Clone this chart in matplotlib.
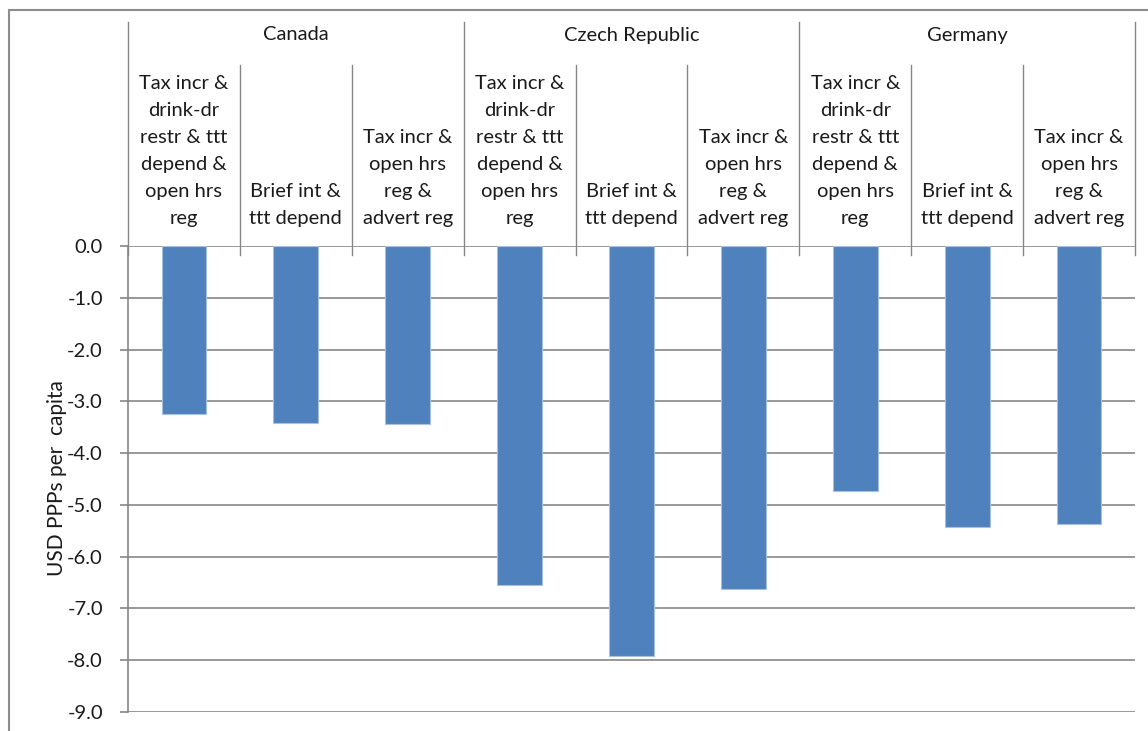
import matplotlib
matplotlib.use("Agg")
import matplotlib.pyplot as plt
from matplotlib.patches import Rectangle

countries = ["Canada", "Czech Republic", "Germany"]
policies = [
    "Tax incr &\ndrink-dr\nrestr & ttt\ndepend &\nopen hrs\nreg",
    "Brief int &\nttt depend",
    "Tax incr &\nopen hrs\nreg &\nadvert reg",
]
canada = [-3.24, -3.41, -3.44]
czech = [-6.54, -7.91, -6.62]
germany = [-4.74, -5.42, -5.36]
yticks = [0.0, -1.0, -2.0, -3.0, -4.0, -5.0, -6.0, -7.0, -8.0, -9.0]
ylabel = "USD PPPs per  capita"

values = canada + czech + germany
n = len(values)
xs = list(range(n))

plt.rcParams["font.family"] = ["Lato", "DejaVu Sans"]
W, H = 1148, 731
fig = plt.figure(figsize=(W / 100, H / 100), dpi=100)
fig.patch.set_facecolor("white")

left_px, right_px, top_px, bot_px = 128, 1135, 246, 712
ax = fig.add_axes([left_px / W, 1 - bot_px / H,
                   (right_px - left_px) / W, (bot_px - top_px) / H])
ax.set_xlim(-0.5, n - 0.5)
ax.set_ylim(-9, 0)

grid_c = "#868686"
for y in yticks:
    ax.axhline(y, color=grid_c, lw=1.2, zorder=1)

ax.bar(xs, values, width=0.4, color="#4F81BD", edgecolor="#A9C1E0",
       linewidth=0.8, zorder=3)

for s in ["top", "right", "bottom"]:
    ax.spines[s].set_visible(False)
ax.spines["left"].set_color(grid_c)
ax.spines["left"].set_linewidth(1.2)
ax.set_xticks([])
ax.set_yticks(yticks)
ax.set_yticklabels([f"{v:.1f}" for v in yticks], fontsize=14.5, color="#1a1a1a")
ax.tick_params(axis="y", length=6, width=1.2, color=grid_c, pad=12)

fig.text(57 / W, 1 - 478 / H, ylabel, rotation=90, ha="center", va="center",
         fontsize=15, color="#1a1a1a")

# header area above the zero line (data units: px / px-per-unit)
ppu = (bot_px - top_px) / 9.0
def yd(px):
    return (top_px - px) / ppu

# vertical separators: group boundaries reach the top, others only the policy row
for i in range(n + 1):
    x = i - 0.5
    top = 22 if i % 3 == 0 else 65
    ax.plot([x, x], [yd(top), yd(255)], color=grid_c, lw=1.0,
            clip_on=False, zorder=2)

for g, name in enumerate(countries):
    ax.text(3 * g + 1, yd(35), name, ha="center", va="center",
            fontsize=14.5, color="#1a1a1a", clip_on=False)

for i in range(n):
    ax.text(i, yd(227), policies[i % 3], ha="center", va="bottom",
            multialignment="center", fontsize=14.5, color="#1a1a1a",
            linespacing=1.72, clip_on=False)

# outer chart frame
fig.patches.append(Rectangle((9 / W, -0.1), 1.2, 1 - 10 / H + 0.1,
                             transform=fig.transFigure, fill=False,
                             edgecolor="#8c8c8c", lw=1.5))

fig.savefig("out.png", dpi=100, facecolor="white")
